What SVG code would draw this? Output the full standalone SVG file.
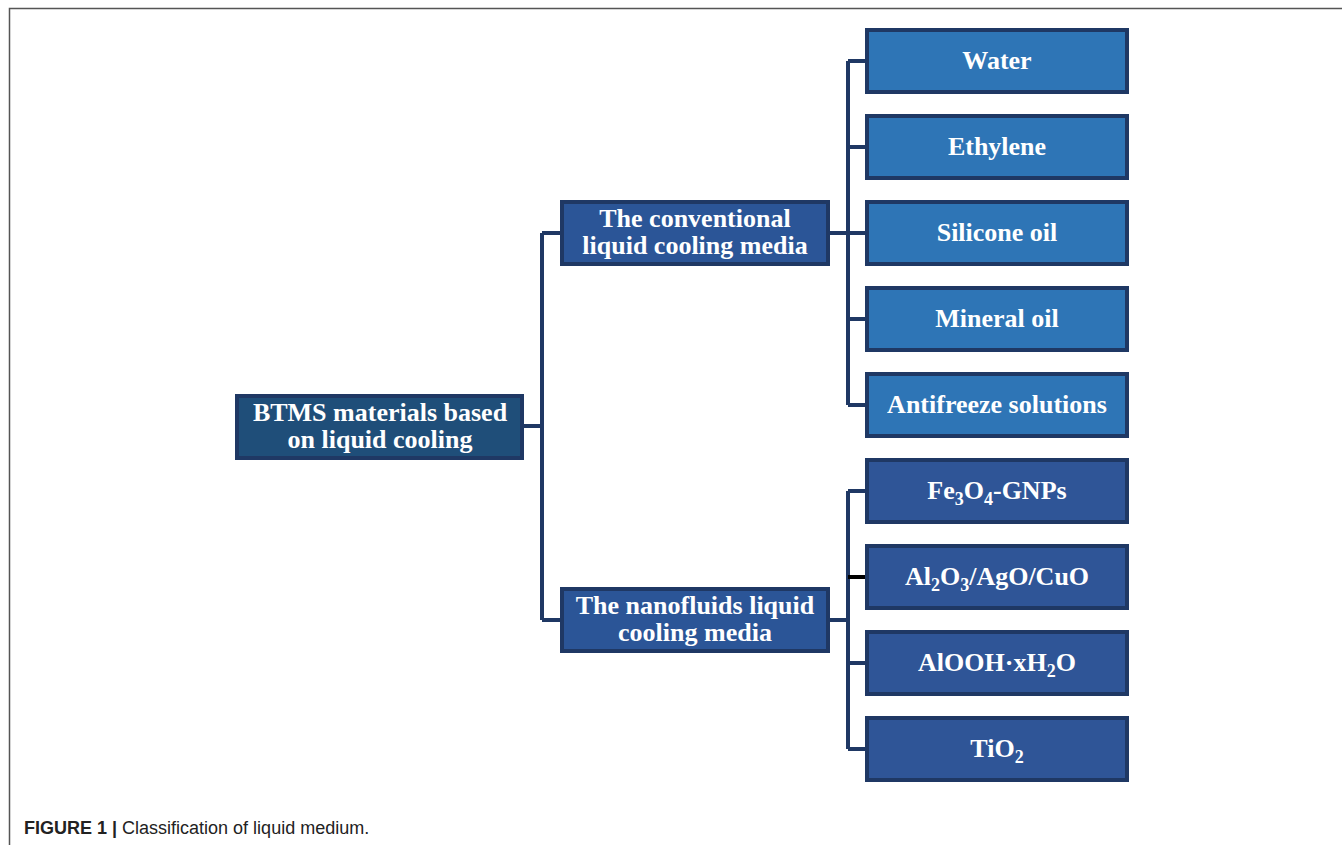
<svg xmlns="http://www.w3.org/2000/svg" width="1342" height="845" viewBox="0 0 1342 845">
<style>
.box{stroke:#1f3864;stroke-width:4}
.root{fill:#1f4e79}
.mid{fill:#2b5597}
.conv{fill:#2e75b6}
.nano{fill:#2f5597}
.t{font-family:"Liberation Serif","Times New Roman",serif;font-weight:bold;fill:#ffffff;text-anchor:middle}
.big{font-size:26px}
.leaf{font-size:26px}
.sub{font-size:18px}
.ln{fill:none;stroke:#1f3864;stroke-width:4}
.cap{font-family:"Liberation Sans",Arial,sans-serif;font-size:18px;fill:#222}
</style>
<rect x="0" y="0" width="1342" height="845" fill="#ffffff"/>
<path d="M9.5 845 V8.5 H1342" fill="none" stroke="#555" stroke-width="1.5"/>
<g id="connectors">
<path class="ln" d="M523 426 H542 M542 233 V620 M542 233 H561 M542 620 H561"/>
<path class="ln" d="M829 233 H848 M848 61 V405 M848 61 H866 M848 147 H866 M848 233 H866 M848 319 H866 M848 405 H866"/>
<path class="ln" d="M829 620 H848 M848 491 V749 M848 491 H866 M848 663 H866 M848 749 H866"/>
<path d="M848 577 H866" fill="none" stroke="#000" stroke-width="4"/>
</g>
<g id="root"><rect class="box root" x="237" y="396" width="285" height="62"/>
<text class="t big" x="380" y="421">BTMS materials based</text>
<text class="t big" x="380" y="448">on liquid cooling</text></g>
<g id="conventional"><rect class="box mid" x="562" y="202" width="266" height="62"/>
<text class="t big" x="695" y="227">The conventional</text>
<text class="t big" x="695" y="254">liquid cooling media</text></g>
<g id="nanofluids"><rect class="box mid" x="562" y="589" width="266" height="62"/>
<text class="t big" x="695" y="614">The nanofluids liquid</text>
<text class="t big" x="695" y="641">cooling media</text></g>
<g id="water"><rect class="box conv" x="867" y="30" width="260" height="62"/>
<text class="t leaf" x="997" y="69">Water</text></g>
<g id="ethylene"><rect class="box conv" x="867" y="116" width="260" height="62"/>
<text class="t leaf" x="997" y="155">Ethylene</text></g>
<g id="silicone"><rect class="box conv" x="867" y="202" width="260" height="62"/>
<text class="t leaf" x="997" y="241">Silicone oil</text></g>
<g id="mineral"><rect class="box conv" x="867" y="288" width="260" height="62"/>
<text class="t leaf" x="997" y="327">Mineral oil</text></g>
<g id="antifreeze"><rect class="box conv" x="867" y="374" width="260" height="62"/>
<text class="t leaf" x="997" y="413">Antifreeze solutions</text></g>
<g id="fe3o4"><rect class="box nano" x="867" y="460" width="260" height="62"/>
<text class="t leaf" x="997" y="499">Fe<tspan class="sub" dy="6">3</tspan><tspan dy="-6">O</tspan><tspan class="sub" dy="6">4</tspan><tspan dy="-6">-GNPs</tspan></text></g>
<g id="al2o3"><rect class="box nano" x="867" y="546" width="260" height="62"/>
<text class="t leaf" x="997" y="585">Al<tspan class="sub" dy="6">2</tspan><tspan dy="-6">O</tspan><tspan class="sub" dy="6">3</tspan><tspan dy="-6">/AgO/CuO</tspan></text></g>
<g id="alooh"><rect class="box nano" x="867" y="632" width="260" height="62"/>
<text class="t leaf" x="997" y="671">AlOOH·xH<tspan class="sub" dy="6">2</tspan><tspan dy="-6">O</tspan></text></g>
<g id="tio2"><rect class="box nano" x="867" y="718" width="260" height="62"/>
<text class="t leaf" x="997" y="757">TiO<tspan class="sub" dy="6">2</tspan></text></g>
<text class="cap" x="24" y="834"><tspan font-weight="bold">FIGURE 1 |</tspan> Classification of liquid medium.</text>
</svg>
